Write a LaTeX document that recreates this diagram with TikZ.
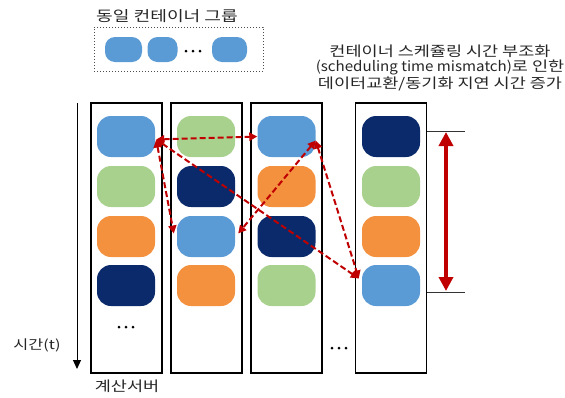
\documentclass[tikz,border=0pt]{standalone}
\usepackage{fontspec}
\setmainfont{Noto Sans CJK KR}
\newfontfamily\krw[FakeStretch=1.25]{Noto Sans CJK KR}
\newfontfamily\latw[FakeStretch=1.08]{Noto Sans CJK KR}
\usetikzlibrary{arrows.meta,calc}
\definecolor{cblue}{HTML}{5B9BD5}
\definecolor{cgreen}{HTML}{A9D18E}
\definecolor{corange}{HTML}{F4913E}
\definecolor{cnavy}{HTML}{0B2A6B}
\definecolor{cred}{HTML}{C00000}
\begin{document}
\begin{tikzpicture}[x=1pt,y=-1pt,
  blob/.style={draw=none,rounded corners=14pt,minimum width=58pt,minimum height=41pt,inner sep=0pt},
  sblob/.style={fill=cblue,draw=none,rounded corners=10pt,minimum height=25pt,inner sep=0pt},
  column/.style={draw=black,line width=1.3pt,minimum width=71pt,minimum height=270pt,inner sep=0pt},
  link/.style={draw=cred,line width=2pt,dash pattern=on 6pt off 3pt,{Triangle[length=8pt,width=8pt]}-{Triangle[length=8pt,width=8pt]}},
  lbl/.style={inner sep=0pt,align=center,text=black!85}]
\useasboundingbox (0,0) rectangle (565,397);
% top group
\node[lbl,font=\fontsize{14.5}{16}\krw] (grouplbl) at (167,16.5) {동일 컨테이너 그룹};
\node[draw=black!70,dotted,line width=1pt,minimum width=169pt,minimum height=44pt,inner sep=0pt] (groupbox) at (178.5,49) {};
\node[sblob,minimum width=37pt] (g1) at (123.5,49.5) {};
\node[sblob,minimum width=30pt] (g2) at (162.5,49.5) {};
\node[sblob,minimum width=35pt] (g3) at (229.5,49.5) {};
\foreach \x in {186,193,200} \fill (\x,51) circle (1.5pt);
% right text
\node[lbl,font=\fontsize{14}{15}\selectfont] (note) at (440,68) {{\krw 컨테이너 스케쥴링 시간 부조화}\\{\latw (scheduling time mismatch)}{\krw 로 인한}\\{\krw 데이터교환/동기화 지연 시간 증가}};
% time axis
\coordinate (tstart) at (77,103);
\coordinate (tend) at (77,369);
\draw[line width=1pt,-{Triangle[length=9pt,width=8pt]}] (tstart) -- (tend);
\node[lbl,font=\fontsize{13}{15}\krw] (tlbl) at (37,345) {시간(t)};
% columns
\node[column] (col1) at (126.5,238) {};
\node[column] (col2) at (206.5,238) {};
\node[column] (col3) at (286.5,238) {};
\node[column] (col4) at (391,238) {};
\node[lbl,font=\fontsize{14}{16}\krw] (srv) at (127,386) {계산서버};
% blobs
\foreach \c/\x in {1/126,2/206,3/286.5,4/391}{
  \foreach \r/\y in {1/136.5,2/186.5,3/236.5,4/285.5}{
    \coordinate (p\c\r) at (\x,\y);
  }
}
\node[blob,fill=cblue]   (c1r1) at (p11) {};
\node[blob,fill=cgreen]  (c1r2) at (p12) {};
\node[blob,fill=corange] (c1r3) at (p13) {};
\node[blob,fill=cnavy]   (c1r4) at (p14) {};
\node[blob,fill=cgreen]  (c2r1) at (p21) {};
\node[blob,fill=cnavy]   (c2r2) at (p22) {};
\node[blob,fill=cblue]   (c2r3) at (p23) {};
\node[blob,fill=corange] (c2r4) at (p24) {};
\node[blob,fill=cblue]   (c3r1) at (p31) {};
\node[blob,fill=corange] (c3r2) at (p32) {};
\node[blob,fill=cnavy]   (c3r3) at (p33) {};
\node[blob,fill=cgreen]  (c3r4) at (p34) {};
\node[blob,fill=cnavy]   (c4r1) at (p41) {};
\node[blob,fill=cgreen]  (c4r2) at (p42) {};
\node[blob,fill=corange] (c4r3) at (p43) {};
\node[blob,fill=cblue]   (c4r4) at (p44) {};
% ellipsis dots
\foreach \x in {119,126,133} \fill (\x,327) circle (1.5pt);
\foreach \x in {332,339,346} \fill (\x,348) circle (1.5pt);
% links
\coordinate (a1) at ($(c1r1.east)+(1,3)$);
\coordinate (a3) at ($(c3r1.east)+(0,4)$);
\coordinate (a4) at ($(c4r4.west)+(-3,-7)$);
\draw[link] (a1) -- (c3r1.west);
\draw[link] (a1) -- ($(c2r3.west)+(-3,-3)$);
\draw[link] (a1) -- (a4);
\draw[link] (a3) -- ($(c2r3.east)+(3,-3)$);
\draw[link] (a3) -- (a4);
% delay marker
\coordinate (m1a) at (427,131);
\coordinate (m1b) at (465,131);
\coordinate (m2a) at (427,292);
\coordinate (m2b) at (465,292);
\draw[line width=0.8pt,black!80] (m1a) -- (m1b);
\draw[line width=0.8pt,black!80] (m2a) -- (m2b);
\draw[cred,line width=4pt,{Triangle[length=14pt,width=14pt]}-{Triangle[length=14pt,width=14pt]}] (446,132) -- (446,291);
\end{tikzpicture}
\end{document}
